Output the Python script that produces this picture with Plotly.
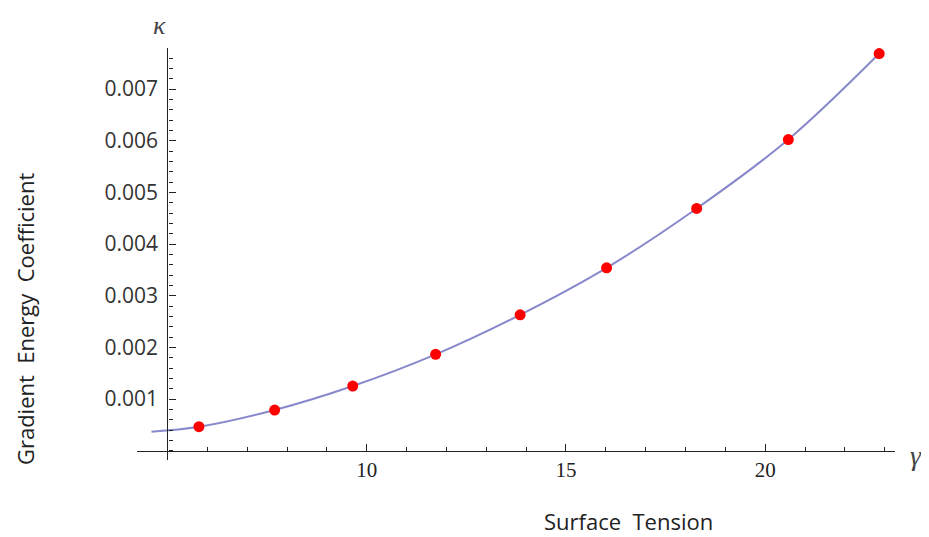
import plotly.graph_objects as go

# Data
surface_tension = [5.79, 7.69, 9.65, 11.73, 13.85, 16.02, 18.28, 20.58, 22.86]
gradient_coeff = [0.000464, 0.000787, 0.001251, 0.001865, 0.002631, 0.003540, 0.004689, 0.006023, 0.007687]

# fitted curve (start of line + through the points)
curve_x = [4.60, 5.79, 7.69, 9.65, 11.73, 13.85, 16.02, 18.28, 20.58, 22.86]
curve_y = [0.000367, 0.000462, 0.000787, 0.001251, 0.001865, 0.002631, 0.003540, 0.004689, 0.006023, 0.007687]

x_ticks = [10, 15, 20]
x_tick_labels = ["10", "15", "20"]
y_ticks = [0.001, 0.002, 0.003, 0.004, 0.005, 0.006, 0.007]
y_tick_labels = ["0.001", "0.002", "0.003", "0.004", "0.005", "0.006", "0.007"]

x_range = [4.236, 23.257]
y_range = [-0.00018, 0.007795]
x_origin = 5
y_origin = 0

fig = go.Figure()
fig.add_trace(go.Scatter(
    x=curve_x, y=curve_y, mode="lines",
    line=dict(color="#8888CC", width=2, shape="spline", smoothing=1.0),
    hoverinfo="skip", showlegend=False,
))
fig.add_trace(go.Scatter(
    x=surface_tension, y=gradient_coeff, mode="markers",
    marker=dict(color="#FF0000", size=11, line=dict(width=0)),
    showlegend=False,
))

ypos = (x_origin - x_range[0]) / (x_range[1] - x_range[0])
xpos = (y_origin - y_range[0]) / (y_range[1] - y_range[0])

axis_color = "#222222"
fig.update_layout(
    width=921, height=529,
    margin=dict(l=129, r=34, t=40, b=77, autoexpand=False),
    paper_bgcolor="white", plot_bgcolor="white",
    xaxis=dict(
        range=x_range, anchor="free", position=xpos,
        showgrid=False, zeroline=False, showline=True,
        linecolor=axis_color, linewidth=1.3,
        tickmode="array", tickvals=x_ticks, ticktext=x_tick_labels,
        ticks="inside", ticklen=7, tickwidth=1.3, tickcolor=axis_color,
        minor=dict(ticks="inside", ticklen=4, tickwidth=1, tickcolor=axis_color,
                   dtick=1, tick0=0, showgrid=False),
        tickfont=dict(family="Liberation Serif", size=21, color="#222222"),
        ticklabelstandoff=0,
        automargin=False,
    ),
    yaxis=dict(
        range=y_range, anchor="free", position=ypos,
        showgrid=False, zeroline=False, showline=True,
        linecolor=axis_color, linewidth=1.3,
        tickmode="array", tickvals=y_ticks, ticktext=y_tick_labels,
        ticks="inside", ticklen=7, tickwidth=1.3, tickcolor=axis_color,
        minor=dict(ticks="inside", ticklen=4, tickwidth=1, tickcolor=axis_color,
                   dtick=0.0002, tick0=0, showgrid=False),
        tickfont=dict(family="Open Sans", size=21, color="#333333"),
        ticklabelstandoff=5,
        automargin=False,
    ),
    annotations=[
        dict(text="Gradient  Energy  Coefficient", xref="paper", yref="paper",
             x=-0.1478, y=0.3444, textangle=-90, showarrow=False,
             font=dict(family="Open Sans", size=22, color="#222222"),
             xanchor="center", yanchor="middle"),
        dict(text="Surface  Tension", xref="paper", yref="paper",
             x=0.649, y=-0.147, showarrow=False,
             font=dict(family="Open Sans", size=22, color="#222222"),
             xanchor="center", yanchor="middle"),
        dict(text="<i>κ</i>", xref="paper", yref="paper",
             x=0.0303, y=1.055, showarrow=False,
             font=dict(family="Liberation Serif", size=26, color="#444444"),
             xanchor="center", yanchor="middle"),
        dict(text="<i>γ</i>", xref="paper", yref="paper",
             x=1.028, y=0.012, showarrow=False,
             font=dict(family="Liberation Serif", size=28, color="#444444"),
             xanchor="center", yanchor="middle"),
    ],
)

fig.write_html("out.html")
